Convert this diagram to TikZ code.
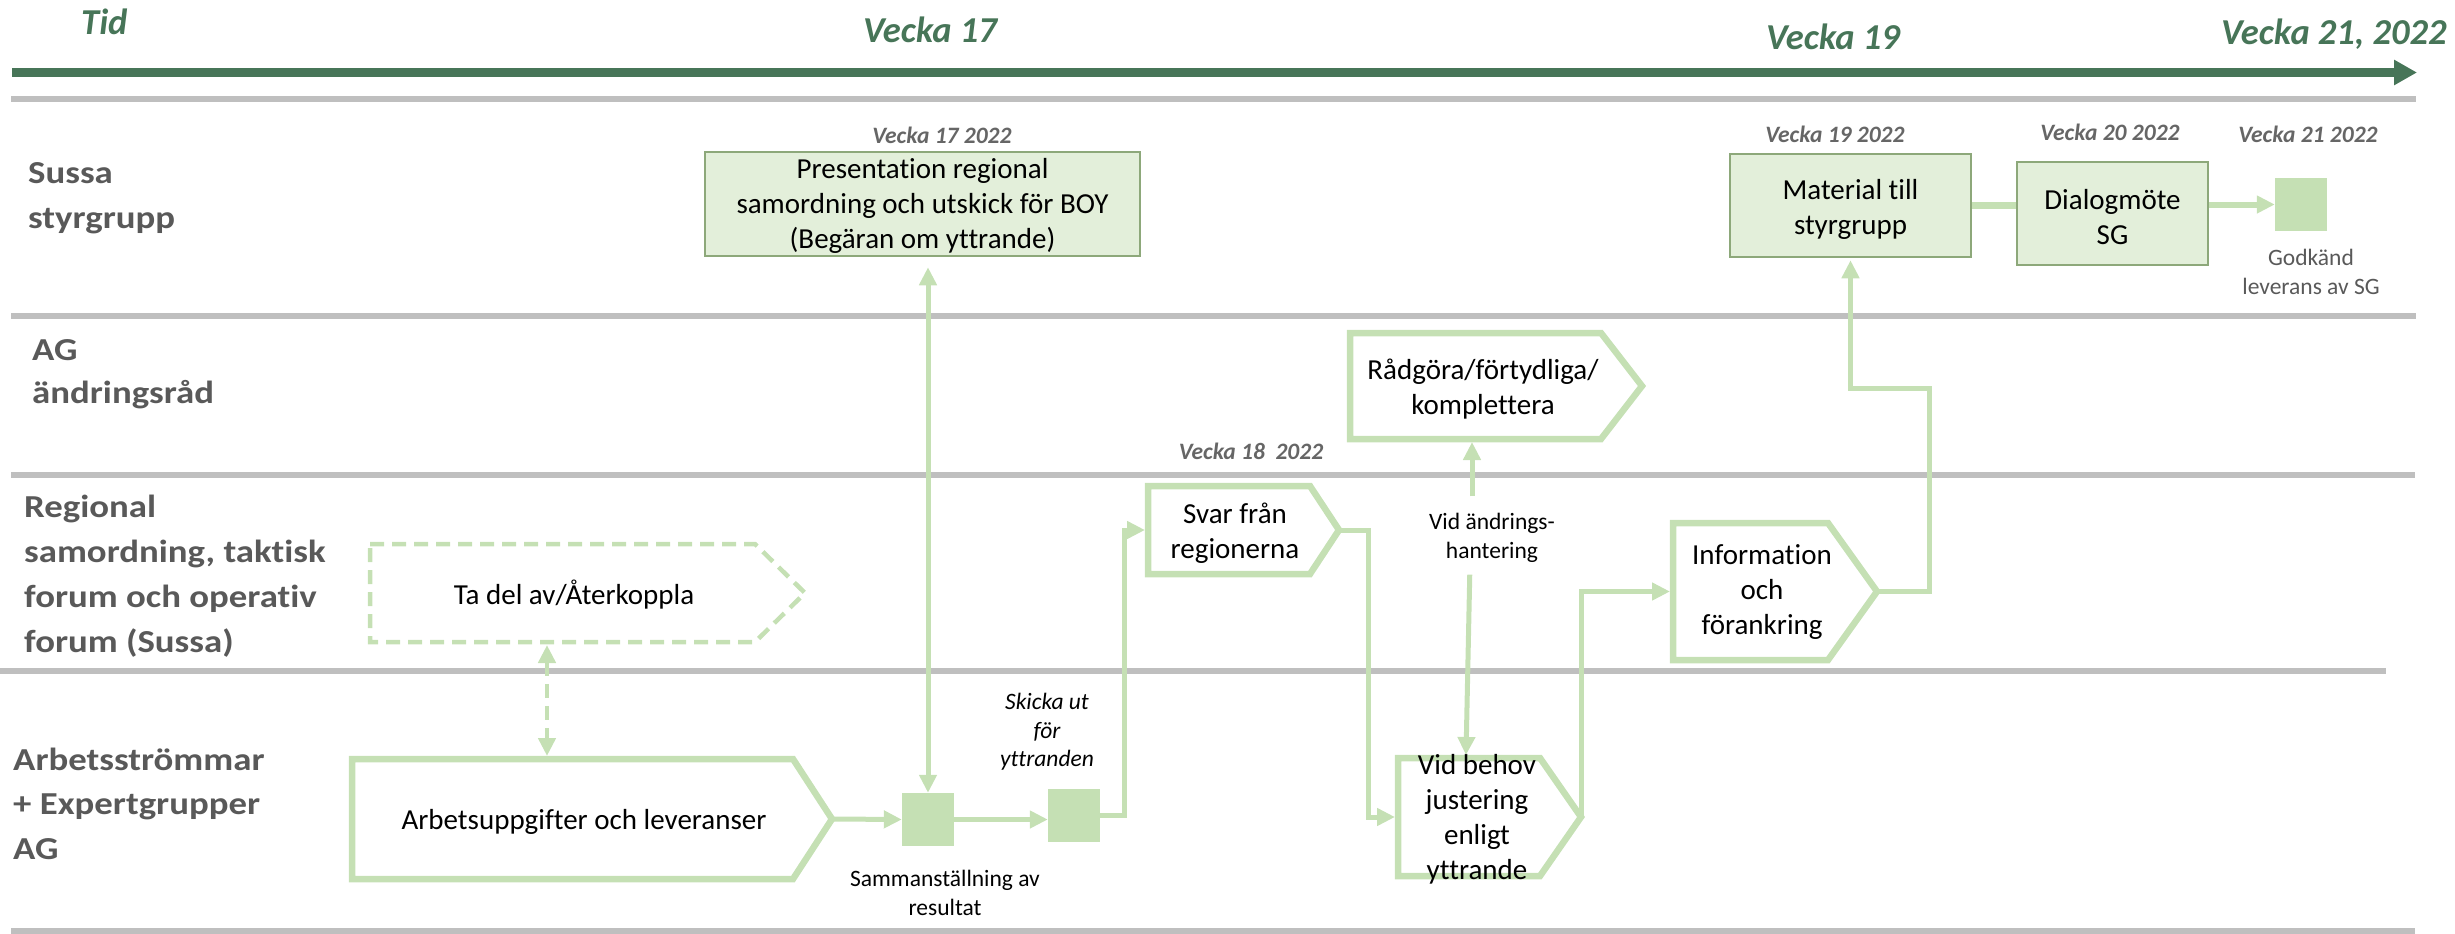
\documentclass[tikz,border=0pt]{standalone}
\usepackage{fontspec}
\setmainfont{Carlito}[Ligatures=NoCommon]
\newfontfamily\lanefont[FakeStretch=1.15,Ligatures=NoCommon]{Carlito}
\usetikzlibrary{arrows.meta}
\definecolor{lg}{HTML}{C5E0B4}
\definecolor{tg}{HTML}{477558}
\definecolor{gl}{HTML}{BFBFBF}
\definecolor{lab}{HTML}{595959}
\definecolor{wkc}{HTML}{666666}
\definecolor{bfill}{HTML}{E3EFDA}
\definecolor{bdraw}{HTML}{8DA87A}
\newcommand\pentagon[7]{% style, name, left, top, chamfer, tip, bottom
  \draw[pent,#1] (#3,#4) -- (#5,#4) -- (#6,{(#4+#7)/2}) -- (#5,#7) -- (#3,#7) -- cycle;
  \coordinate (#2-w) at ({#3-3},{(#4+#7)/2});
  \coordinate (#2-tip) at (#6,{(#4+#7)/2});
}
\begin{document}
\begin{tikzpicture}[x=1pt,y=-1pt,
  lane/.style={anchor=base west, align=left, text=lab, inner sep=0pt},
  tlabel/.style={anchor=base west, text=tg, inner sep=0pt, font=\bfseries\itshape\fontsize{36.5}{40}\selectfont},
  wk/.style={anchor=base, text=wkc, inner sep=0pt, font=\bfseries\itshape\fontsize{23.5}{28}\selectfont},
  small/.style={align=center, inner sep=0pt, font=\fontsize{23.5}{28.5}\selectfont},
  btext/.style={align=center, inner sep=0pt, font=\fontsize{29}{35}\selectfont},
  gbox/.style={draw=bdraw, fill=bfill, line width=2.5pt},
  sq/.style={fill=lg, draw=none, minimum width=52pt, minimum height=53pt, inner sep=0pt},
  conn/.style={draw=lg, line width=5pt},
  arr/.style={-{Triangle[length=18pt,width=17pt]}},
  pent/.style={draw=lg, line width=6.5pt, line join=miter},
  sep/.style={draw=gl, line width=5.5pt}]
\useasboundingbox (0,0) rectangle (2455,934);

% time axis
\coordinate (t0) at (12,72.5);
\coordinate (t1) at (2417,72.5);
\draw[tg, line width=9pt, -{Triangle[length=23pt,width=24pt]}] (t0) -- (t1);
\node[tlabel] (tid) at (81,35) {Tid};
\node[tlabel] (v17) at (863,43) {Vecka 17};
\node[tlabel] (v19) at (1766,50) {Vecka 19};
\node[tlabel] (v21) at (2221,45) {Vecka 21, 2022};

% lane separators
\draw[sep] (11,99) -- (2416,99);
\draw[sep] (11,316) -- (2416,316);
\draw[sep] (11,475) -- (2415,475);
\draw[sep] (0,671) -- (2386,671);
\draw[sep] (11,931) -- (2415,931);

% lane labels (base = baseline of last line)
\begin{scope}[font=\lanefont\bfseries\fontsize{32}{45}\selectfont]
\node[lane] (l1) at (28,228) {Sussa\\styrgrupp};
\node[lane, font=\lanefont\bfseries\fontsize{32}{43}\selectfont] (l2) at (32,403) {AG\\ändringsråd};
\node[lane] (l3) at (24,652) {Regional\\samordning, taktisk\\forum och operativ\\forum (Sussa)};
\node[lane, font=\lanefont\bfseries\fontsize{32}{44.5}\selectfont] (l4) at (13,859) {Arbetsströmmar\\+ Expertgrupper\\AG};
\end{scope}

% week labels
\node[wk] (w17) at (942,143) {Vecka 17 2022};
\node[wk] (w18) at (1251,459) {Vecka 18\ \ 2022};
\node[wk] (w19) at (1835,142) {Vecka 19 2022};
\node[wk] (w20) at (2110,140) {Vecka 20 2022};
\node[wk] (w21) at (2308,142) {Vecka 21 2022};

% filled boxes
\node[gbox, minimum width=435pt, minimum height=104pt] (pres) at (922.5,204) {};
\node[btext] (presT) at (922.5,206)
  {Presentation regional\\samordning och utskick för BOY\\(Begäran om yttrande)};
\node[gbox, minimum width=241pt, minimum height=103pt] (mat) at (1850.5,205.5) {};
\node[btext] (matT) at (1850.5,209) {Material till\\styrgrupp};
\node[gbox, minimum width=191pt, minimum height=103pt] (dia) at (2112.5,213.5) {};
\node[btext] (diaT) at (2112.5,217) {Dialogmöte\\SG};

% squares
\node[sq] (sq1) at (928,819.5) {};
\node[sq] (sq2) at (1074,815) {};
\node[sq] (sq3) at (2301,204.5) {};

% pentagon boxes
\pentagon{dash pattern=on 14pt off 8pt, line width=4.5pt}{ta}{370}{544}{755}{805}{642}
\node[btext] (taT) at (574,595) {Ta del av/Återkoppla};
\pentagon{}{arb}{352}{759}{793}{832}{879}
\node[btext] (arbT) at (584,822) {Arbetsuppgifter och leveranser};
\pentagon{}{svar}{1148}{486}{1310}{1339}{574}
\node[btext] (svarT) at (1235,533) {Svar från\\regionerna};
\pentagon{}{rad}{1350}{333}{1601}{1642}{439}
\node[btext] (radT) at (1483,389) {Rådgöra/förtydliga/\\komplettera};
\pentagon{}{behov}{1398}{758}{1540}{1581}{876}
\node[btext] (behovT) at (1477,819) {Vid behov\\justering\\enligt\\yttrande};
\pentagon{}{info}{1673}{523}{1828}{1877}{660}
\node[btext] (infoT) at (1762,592) {Information\\och\\förankring};

% small texts
\node[small] (samm) at (945,893) {Sammanställning av\\resultat};
\node[small, font=\itshape\fontsize{23.5}{28.5}\selectfont] (skicka) at (1047,732) {Skicka ut\\för\\yttranden};
\node[small] (vid) at (1492,538) {Vid ändrings-\\hantering};
\node[small, text=lab] (godk) at (2311,272) {Godkänd\\leverans av SG};

% connector anchor points
\coordinate (ta-b) at (547,645);
\coordinate (arb-t) at (547,756);
\coordinate (rad-b) at (1472,442);
\coordinate (behov-n) at (1466,755);

% connectors
\draw[conn, arr] (arb-tip) -- (sq1.west);
\draw[conn, arr] (sq1.east) -- (sq1.east -| sq2.west);
\draw[conn, arr] (sq2.east) -- ++(24,0) |- (svar-w);
\draw[conn, {Triangle[length=18pt,width=17pt]}-{Triangle[length=18pt,width=17pt]}, shorten <=10pt] (pres.south -| sq1.north) -- (sq1.north);
\draw[conn, line width=4.5pt, dash pattern=on 14pt off 8pt, {Triangle[length=18pt,width=17pt]}-{Triangle[length=18pt,width=17pt]}] (ta-b) -- (arb-t);
\draw[conn, arr] (svar-tip) -- ++(29,0) |- (behov-w);
\draw[conn, arr, shorten <=17pt] ([xshift=-20pt]vid.north) -- (rad-b);
\draw[conn, arr, shorten <=12pt] ([xshift=-22pt]vid.south) -- (behov-n);
\draw[conn, arr] (behov-tip) |- (info-w);
\draw[conn, arr, shorten >=2pt] (info-tip) -| (1929,388) -| (mat.south);
\draw[conn, line width=7pt] (mat.east) -- (mat.east -| dia.west);
\draw[conn, line width=6pt, arr] (dia.east |- sq3.west) -- (sq3.west);
\end{tikzpicture}
\end{document}
